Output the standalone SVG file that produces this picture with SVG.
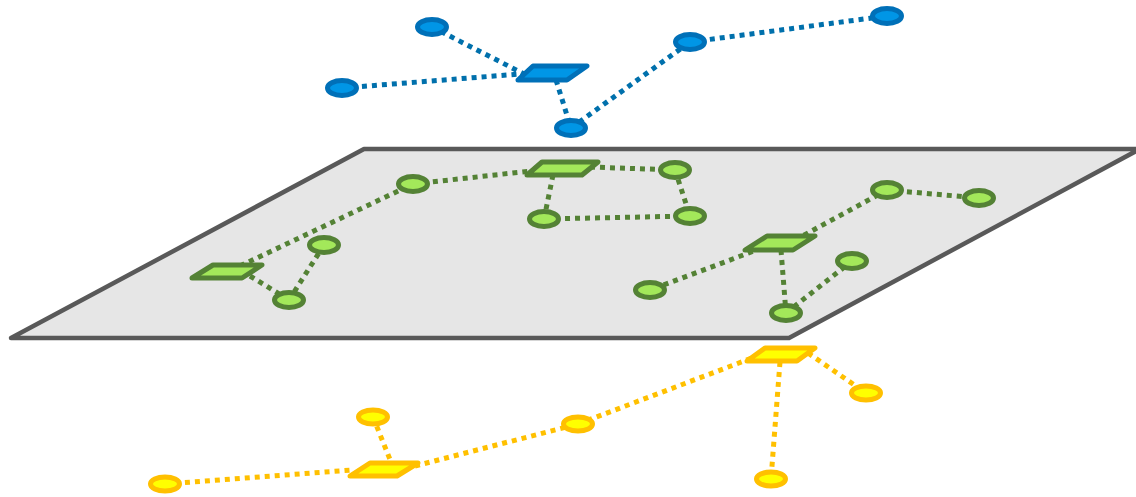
<svg xmlns="http://www.w3.org/2000/svg" width="1136" height="497" viewBox="0 0 1136 497">
<style>
.plane{fill:#e6e6e6;stroke:#595959;stroke-width:4.5;stroke-linejoin:round}
.e{fill:none;stroke-width:5;stroke-dasharray:5 5}
.eb{stroke:#0070ac}.eg{stroke:#548235}.ey{stroke:#ffc000}
.n{stroke-width:5;stroke-linejoin:round}
.b{fill:#0096e6;stroke:#0070b8}
.g{fill:#a3e85a;stroke:#548235}
.y{fill:#ffff00;stroke:#ffc000}
</style>
<g id="plane"><polygon class="plane" points="11,338 364,149 1140,149 789,338"/></g>
<g id="connectors">
<g class="e eb">
<line x1="432" y1="27" x2="528" y2="76"/>
<line x1="342" y1="88" x2="520" y2="74"/>
<line x1="556" y1="80" x2="571" y2="128"/>
<line x1="571" y1="128" x2="690" y2="42"/>
<line x1="690" y1="42" x2="887" y2="16"/>
</g>
<g class="e eg">
<line x1="240" y1="266" x2="413" y2="184"/>
<line x1="250" y1="276" x2="289" y2="300"/>
<line x1="289" y1="300" x2="324" y2="245"/>
<line x1="413" y1="184" x2="540" y2="170"/>
<line x1="590" y1="167" x2="675" y2="170"/>
<line x1="675" y1="170" x2="690" y2="216"/>
<line x1="690" y1="216" x2="544" y2="219"/>
<line x1="544" y1="219" x2="553" y2="175"/>
<line x1="795" y1="240" x2="887" y2="190"/>
<line x1="887" y1="190" x2="979" y2="198"/>
<line x1="762" y1="248" x2="650" y2="290"/>
<line x1="781" y1="250" x2="786" y2="313"/>
<line x1="786" y1="313" x2="852" y2="261"/>
</g>
<g class="e ey">
<line x1="165" y1="484" x2="352" y2="470"/>
<line x1="373" y1="417" x2="391" y2="462"/>
<line x1="415" y1="466" x2="578" y2="424"/>
<line x1="578" y1="424" x2="760" y2="355"/>
<line x1="780" y1="362" x2="771" y2="479"/>
<line x1="808" y1="353" x2="866" y2="393"/>
</g>
</g>
<g id="blue-hub"><polygon class="n b" points="518,80 533,66 587,66 567,80"/></g>
<g id="blue-1"><ellipse class="n b" cx="432" cy="27" rx="14.5" ry="7.5"/></g>
<g id="blue-2"><ellipse class="n b" cx="342" cy="88" rx="14.5" ry="7.5"/></g>
<g id="blue-3"><ellipse class="n b" cx="571" cy="128" rx="14.5" ry="7.5"/></g>
<g id="blue-4"><ellipse class="n b" cx="690" cy="42" rx="14.5" ry="7.5"/></g>
<g id="blue-5"><ellipse class="n b" cx="887" cy="16" rx="14.5" ry="7.5"/></g>
<g id="green-hub-1"><polygon class="n g" points="192,278 213,265 262,265 242,278"/></g>
<g id="green-hub-2"><polygon class="n g" points="527,175 542,162 598,162 582,175"/></g>
<g id="green-hub-3"><polygon class="n g" points="745,250 767,236 815,236 793,250"/></g>
<g id="green-1"><ellipse class="n g" cx="413" cy="184" rx="14.5" ry="7.5"/></g>
<g id="green-2"><ellipse class="n g" cx="324" cy="245" rx="14.5" ry="7.5"/></g>
<g id="green-3"><ellipse class="n g" cx="289" cy="300" rx="14.5" ry="7.5"/></g>
<g id="green-4"><ellipse class="n g" cx="544" cy="219" rx="14.5" ry="7.5"/></g>
<g id="green-5"><ellipse class="n g" cx="675" cy="170" rx="14.5" ry="7.5"/></g>
<g id="green-6"><ellipse class="n g" cx="690" cy="216" rx="14.5" ry="7.5"/></g>
<g id="green-7"><ellipse class="n g" cx="887" cy="190" rx="14.5" ry="7.5"/></g>
<g id="green-8"><ellipse class="n g" cx="979" cy="198" rx="14.5" ry="7.5"/></g>
<g id="green-9"><ellipse class="n g" cx="852" cy="261" rx="14.5" ry="7.5"/></g>
<g id="green-10"><ellipse class="n g" cx="650" cy="290" rx="14.5" ry="7.5"/></g>
<g id="green-11"><ellipse class="n g" cx="786" cy="313" rx="14.5" ry="7.5"/></g>
<g id="yellow-hub-1"><polygon class="n y" points="350,476 370,463 418,463 397,476"/></g>
<g id="yellow-hub-2"><polygon class="n y" points="747,361 765,348 815,348 797,361"/></g>
<g id="yellow-1"><ellipse class="n y" cx="373" cy="417" rx="14.5" ry="7"/></g>
<g id="yellow-2"><ellipse class="n y" cx="165" cy="484" rx="14.5" ry="7"/></g>
<g id="yellow-3"><ellipse class="n y" cx="578" cy="424" rx="14.5" ry="7"/></g>
<g id="yellow-4"><ellipse class="n y" cx="866" cy="393" rx="14.5" ry="7"/></g>
<g id="yellow-5"><ellipse class="n y" cx="771" cy="479" rx="14.5" ry="7"/></g>
</svg>
